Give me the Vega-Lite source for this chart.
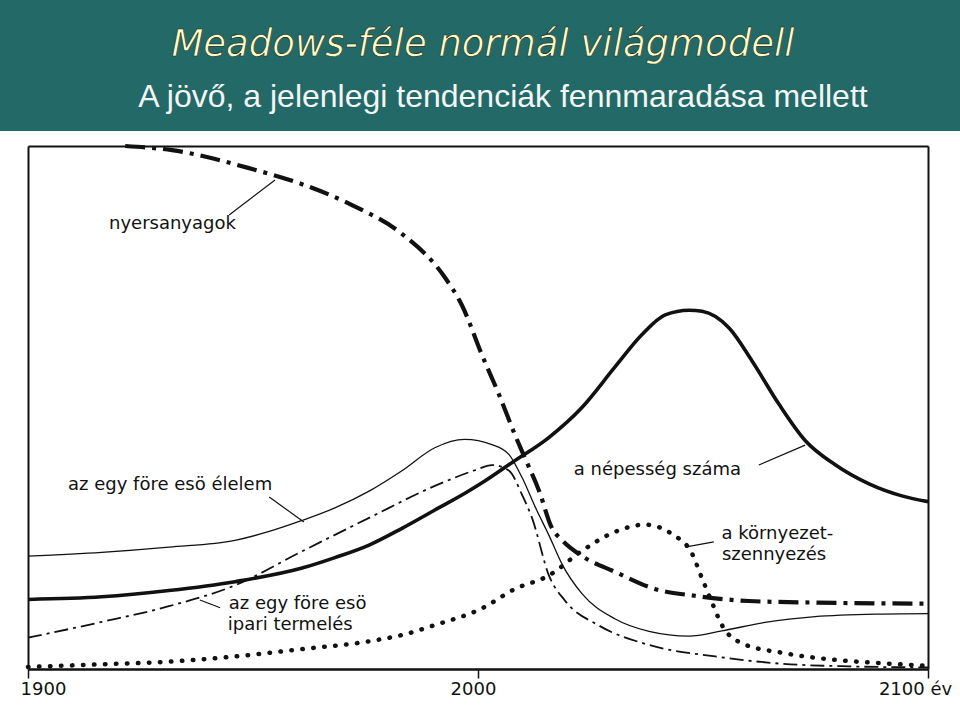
{
  "$schema": "https://vega.github.io/schema/vega-lite/v6.json",
  "padding": 0,
  "background": "#ffffff",
  "spacing": 6,
  "config": {"view": {"stroke": null}},
  "datasets": {
    "fejlec": [
      {"sor": "cím", "szöveg": "Meadows-féle normál világmodell"},
      {"sor": "alcím", "szöveg": "A jövő, a jelenlegi tendenciák fennmaradása mellett"}
    ],
    "gorbek": [
      {"sor": "nyersanyagok", "év": 1921.6, "érték": 100},
      {"sor": "nyersanyagok", "év": 1932, "érték": 99.2},
      {"sor": "nyersanyagok", "év": 1949.8, "érték": 95.6},
      {"sor": "nyersanyagok", "év": 1960.9, "érték": 92.7},
      {"sor": "nyersanyagok", "év": 1972, "érték": 88.7},
      {"sor": "nyersanyagok", "év": 1983.1, "érték": 83.2},
      {"sor": "nyersanyagok", "év": 1992.7, "érték": 74.8},
      {"sor": "nyersanyagok", "év": 1996.4, "érték": 69.6},
      {"sor": "nyersanyagok", "év": 2000.9, "érték": 60.0},
      {"sor": "nyersanyagok", "év": 2004.7, "érték": 52.4},
      {"sor": "nyersanyagok", "év": 2008.2, "érték": 44.8},
      {"sor": "nyersanyagok", "év": 2010.4, "érték": 40.4},
      {"sor": "nyersanyagok", "év": 2013.6, "érték": 34.0},
      {"sor": "nyersanyagok", "év": 2016.4, "érték": 27.0},
      {"sor": "nyersanyagok", "év": 2018.7, "érték": 24.6},
      {"sor": "nyersanyagok", "év": 2023.1, "érték": 21.6},
      {"sor": "nyersanyagok", "év": 2030.4, "érték": 18.6},
      {"sor": "nyersanyagok", "év": 2039.3, "érték": 15.3},
      {"sor": "nyersanyagok", "év": 2048.2, "érték": 14.0},
      {"sor": "nyersanyagok", "év": 2060.2, "érték": 13.0},
      {"sor": "nyersanyagok", "év": 2074.9, "érték": 12.7},
      {"sor": "nyersanyagok", "év": 2100, "érték": 12.5},
      {"sor": "népesség", "év": 1900, "érték": 13.3},
      {"sor": "népesség", "év": 1916.4, "érték": 13.8},
      {"sor": "népesség", "év": 1931.3, "érték": 15.0},
      {"sor": "népesség", "év": 1946, "érték": 16.7},
      {"sor": "népesség", "év": 1960.9, "érték": 19.3},
      {"sor": "népesség", "év": 1968.2, "érték": 21.3},
      {"sor": "népesség", "év": 1975.8, "érték": 23.7},
      {"sor": "népesség", "év": 1983.1, "érték": 26.9},
      {"sor": "népesség", "év": 1990.4, "érték": 30.4},
      {"sor": "népesség", "év": 1997.1, "érték": 33.6},
      {"sor": "népesség", "év": 2000.9, "érték": 35.6},
      {"sor": "népesség", "év": 2007.6, "érték": 39.5},
      {"sor": "népesség", "év": 2015.8, "érték": 44.3},
      {"sor": "népesség", "év": 2023.1, "érték": 50.0},
      {"sor": "népesség", "év": 2030.4, "érték": 57.7},
      {"sor": "népesség", "év": 2036.4, "érték": 63.9},
      {"sor": "népesség", "év": 2041.6, "érték": 67.7},
      {"sor": "népesség", "év": 2046.9, "érték": 68.6},
      {"sor": "népesség", "év": 2049.8, "érték": 68.4},
      {"sor": "népesség", "év": 2055.8, "érték": 65.2},
      {"sor": "népesség", "év": 2060.9, "érték": 58.9},
      {"sor": "népesség", "év": 2066.9, "érték": 50.6},
      {"sor": "népesség", "év": 2072.7, "érték": 43.7},
      {"sor": "népesség", "év": 2079.3, "érték": 39.1},
      {"sor": "népesség", "év": 2086.9, "érték": 35.4},
      {"sor": "népesség", "év": 2094.2, "érték": 33.1},
      {"sor": "népesség", "év": 2100, "érték": 32.0},
      {"sor": "élelem", "év": 1900, "érték": 21.6},
      {"sor": "élelem", "év": 1916.4, "érték": 22.3},
      {"sor": "élelem", "év": 1931.3, "érték": 23.3},
      {"sor": "élelem", "év": 1946, "érték": 24.6},
      {"sor": "élelem", "év": 1953.6, "érték": 26.3},
      {"sor": "élelem", "év": 1960.9, "érték": 28.4},
      {"sor": "élelem", "év": 1968.2, "érték": 30.8},
      {"sor": "élelem", "év": 1975.8, "érték": 34.0},
      {"sor": "élelem", "év": 1983.1, "érték": 37.9},
      {"sor": "élelem", "év": 1990.4, "érték": 42.3},
      {"sor": "élelem", "év": 1997, "érték": 43.9},
      {"sor": "élelem", "év": 2003.1, "érték": 42.9},
      {"sor": "élelem", "év": 2006.9, "érték": 41.0},
      {"sor": "élelem", "év": 2009.8, "érték": 36.6},
      {"sor": "élelem", "év": 2012.7, "érték": 31.0},
      {"sor": "élelem", "év": 2015.8, "érték": 25.5},
      {"sor": "élelem", "év": 2018.7, "érték": 20.0},
      {"sor": "élelem", "év": 2023.1, "érték": 14.4},
      {"sor": "élelem", "év": 2030.4, "érték": 9.6},
      {"sor": "élelem", "év": 2038, "érték": 7.2},
      {"sor": "élelem", "év": 2046.9, "érték": 6.3},
      {"sor": "élelem", "év": 2054.2, "érték": 7.3},
      {"sor": "élelem", "év": 2063.8, "érték": 8.9},
      {"sor": "élelem", "év": 2074.9, "érték": 10.0},
      {"sor": "élelem", "év": 2089.8, "érték": 10.5},
      {"sor": "élelem", "év": 2100, "érték": 10.6},
      {"sor": "ipari termelés", "év": 1900, "érték": 6.0},
      {"sor": "ipari termelés", "év": 1916.4, "érték": 9.0},
      {"sor": "ipari termelés", "év": 1931.3, "érték": 12.0},
      {"sor": "ipari termelés", "év": 1946, "érték": 16.0},
      {"sor": "ipari termelés", "év": 1960.9, "érték": 22.5},
      {"sor": "ipari termelés", "év": 1975.8, "érték": 28.9},
      {"sor": "ipari termelés", "év": 1990.4, "érték": 35.0},
      {"sor": "ipari termelés", "év": 1999.3, "érték": 38.0},
      {"sor": "ipari termelés", "év": 2003.1, "érték": 39.0},
      {"sor": "ipari termelés", "év": 2006.9, "érték": 37.9},
      {"sor": "ipari termelés", "év": 2009.8, "érték": 33.3},
      {"sor": "ipari termelés", "év": 2012, "érték": 28.9},
      {"sor": "ipari termelés", "év": 2015.8, "érték": 17.8},
      {"sor": "ipari termelés", "év": 2019.3, "érték": 13.1},
      {"sor": "ipari termelés", "év": 2026.9, "érték": 8.3},
      {"sor": "ipari termelés", "év": 2038, "érték": 4.6},
      {"sor": "ipari termelés", "év": 2052.7, "érték": 2.4},
      {"sor": "ipari termelés", "év": 2067.6, "érték": 1.0},
      {"sor": "ipari termelés", "év": 2082.4, "érték": 0.5},
      {"sor": "ipari termelés", "év": 2100, "érték": 0.3},
      {"sor": "környezetszennyezés", "év": 1900, "érték": 0.4},
      {"sor": "környezetszennyezés", "év": 1916.4, "érték": 0.9},
      {"sor": "környezetszennyezés", "év": 1931.3, "érték": 1.4},
      {"sor": "környezetszennyezés", "év": 1946, "érték": 2.4},
      {"sor": "környezetszennyezés", "év": 1960.9, "érték": 3.8},
      {"sor": "környezetszennyezés", "év": 1975.8, "érték": 5.3},
      {"sor": "környezetszennyezés", "év": 1983.1, "érték": 6.5},
      {"sor": "környezetszennyezés", "év": 1990.4, "érték": 8.4},
      {"sor": "környezetszennyezés", "év": 2000.9, "érték": 11.6},
      {"sor": "környezetszennyezés", "év": 2008.2, "érték": 15.3},
      {"sor": "környezetszennyezés", "év": 2015.8, "érték": 17.9},
      {"sor": "környezetszennyezés", "év": 2023.1, "érték": 22.6},
      {"sor": "környezetszennyezés", "év": 2030.4, "érték": 26.2},
      {"sor": "környezetszennyezés", "év": 2037.1, "érték": 27.6},
      {"sor": "környezetszennyezés", "év": 2043.1, "érték": 25.8},
      {"sor": "környezetszennyezés", "év": 2047.6, "érték": 22.0},
      {"sor": "környezetszennyezés", "év": 2049.8, "érték": 17.3},
      {"sor": "környezetszennyezés", "év": 2052, "érték": 12.7},
      {"sor": "környezetszennyezés", "év": 2054.2, "érték": 8.4},
      {"sor": "környezetszennyezés", "év": 2058.7, "érték": 4.9},
      {"sor": "környezetszennyezés", "év": 2067.6, "érték": 3.1},
      {"sor": "környezetszennyezés", "év": 2078.7, "érték": 1.8},
      {"sor": "környezetszennyezés", "év": 2089.8, "érték": 1.1},
      {"sor": "környezetszennyezés", "év": 2100, "érték": 0.6}
    ],
    "feliratok": [
      {"felirat": "nyersanyagok", "év": 1918.0, "érték": 84.1},
      {"felirat": "az egy före esö élelem", "év": 1908.9, "érték": 34.2},
      {"felirat": "az egy före esö", "év": 1944.6, "érték": 11.5},
      {"felirat": "ipari termelés", "év": 1944.4, "érték": 7.5},
      {"felirat": "a népesség száma", "év": 2021.3, "érték": 37.1},
      {"felirat": "a környezet-", "év": 2054.1, "érték": 24.9},
      {"felirat": "szennyezés", "év": 2054.2, "érték": 20.8}
    ],
    "vezetok": [
      {"év": 1944.7, "érték": 86.8, "év2": 1954.9, "érték2": 93.5},
      {"év": 1953.6, "érték": 32.9, "év2": 1961.3, "érték2": 28.1},
      {"év": 1938.2, "érték": 13.2, "év2": 1942.7, "érték2": 11.7},
      {"év": 2062.4, "érték": 39.0, "év2": 2072.7, "érték2": 42.8},
      {"év": 2046, "érték": 23.3, "év2": 2052.4, "érték2": 24.3}
    ]
  },
  "vconcat": [
    {
      "width": 960,
      "height": 131,
      "view": {"fill": "#236967", "stroke": null},
      "data": {"name": "fejlec"},
      "encoding": {
        "y": {"field": "sor", "type": "nominal", "scale": {"type": "point", "domain": ["cím", "alcím"], "range": [56, 107], "padding": 0}, "axis": null},
        "text": {"field": "szöveg", "type": "nominal"}
      },
      "layer": [
        {"transform": [{"filter": "datum.sor === 'cím'"}], "mark": {"type": "text", "font": "DejaVu Sans", "fontStyle": "italic", "fontSize": 37, "baseline": "alphabetic", "align": "center", "dx": 3, "color": "#ffffc4", "stroke": "#16211f", "strokeWidth": 0.6}},
        {"transform": [{"filter": "datum.sor === 'alcím'"}], "mark": {"type": "text", "font": "Liberation Sans", "fontSize": 32, "baseline": "alphabetic", "align": "center", "dx": 23, "color": "#f3f6f5"}}
      ]
    },
    {
      "width": 960,
      "height": 523,
      "resolve": {"axis": {"x": "independent", "y": "independent"}},
      "encoding": {
        "x": {"field": "év", "type": "quantitative", "scale": {"domain": [1900, 2100], "range": [28, 928], "nice": false, "zero": false}, "axis": null},
        "y": {"field": "érték", "type": "quantitative", "scale": {"domain": [0, 100], "nice": false}, "axis": null}
      },
      "layer": [
        {
          "data": {"name": "gorbek"},
          "transform": [{"filter": "datum.sor === 'nyersanyagok'"}],
          "mark": {"type": "line", "interpolate": "monotone", "color": "#111111", "strokeWidth": 4.2, "strokeDash": [20, 7, 4, 7]},
          "encoding": {
            "x": {
              "field": "év", "type": "quantitative",
              "scale": {"domain": [1900, 2100], "range": [28, 928], "nice": false, "zero": false},
              "axis": {
                "orient": "bottom",
                "values": [1900, 2000, 2100], "format": "d",
                "labelExpr": "datum.value == 2100 ? '2100 év' : datum.label",
                "title": null, "grid": false,
                "domainColor": "#111111", "domainWidth": 2.5,
                "tickColor": "#111111", "tickWidth": 1.5, "tickSize": 9,
                "labelFont": "DejaVu Sans", "labelFontSize": 18, "labelColor": "#111111",
                "labelPadding": 2, "labelFlush": false,
                "labelOffset": {"condition": [{"test": "datum.value == 1900", "value": 15}, {"test": "datum.value == 2100", "value": -13}], "value": -5}
              }
            },
            "y": {
              "field": "érték", "type": "quantitative",
              "scale": {"domain": [0, 100], "nice": false},
              "axis": {"orient": "left", "offset": -28, "labels": false, "ticks": false, "domain": true, "domainColor": "#111111", "domainWidth": 2, "grid": false, "title": null, "minExtent": 0, "maxExtent": 0}
            }
          }
        },
        {"data": {"name": "gorbek"}, "transform": [{"filter": "datum.sor === 'népesség'"}], "mark": {"type": "line", "interpolate": "monotone", "color": "#111111", "strokeWidth": 3.6}},
        {"data": {"name": "gorbek"}, "transform": [{"filter": "datum.sor === 'élelem'"}], "mark": {"type": "line", "interpolate": "monotone", "color": "#111111", "strokeWidth": 1.3}},
        {"data": {"name": "gorbek"}, "transform": [{"filter": "datum.sor === 'ipari termelés'"}], "mark": {"type": "line", "interpolate": "monotone", "color": "#111111", "strokeWidth": 1.8, "strokeDash": [14, 5, 3, 5]}},
        {"data": {"name": "gorbek"}, "transform": [{"filter": "datum.sor === 'környezetszennyezés'"}], "mark": {"type": "line", "interpolate": "monotone", "color": "#111111", "strokeWidth": 4.5, "strokeCap": "round", "strokeDash": [0.5, 10.5]}},
        {"data": {"name": "vezetok"}, "mark": {"type": "rule", "color": "#111111", "strokeWidth": 1.2}, "encoding": {"x2": {"field": "év2"}, "y2": {"field": "érték2"}}},
        {
          "data": {"name": "feliratok"},
          "mark": {"type": "text", "font": "DejaVu Sans", "fontSize": 18, "align": "left", "baseline": "alphabetic", "color": "#111111"},
          "encoding": {
            "x": {"field": "év", "type": "quantitative", "scale": {"domain": [1900, 2100], "range": [28, 928], "nice": false, "zero": false}, "axis": {"orient": "top", "labels": false, "ticks": false, "domain": true, "domainColor": "#111111", "domainWidth": 2, "grid": false, "title": null, "minExtent": 0, "maxExtent": 0}},
            "y": {"field": "érték", "type": "quantitative", "scale": {"domain": [0, 100], "nice": false}, "axis": {"orient": "right", "offset": -32, "labels": false, "ticks": false, "domain": true, "domainColor": "#111111", "domainWidth": 2, "grid": false, "title": null, "minExtent": 0, "maxExtent": 0}},
            "text": {"field": "felirat", "type": "nominal"}
          }
        }
      ]
    }
  ]
}
